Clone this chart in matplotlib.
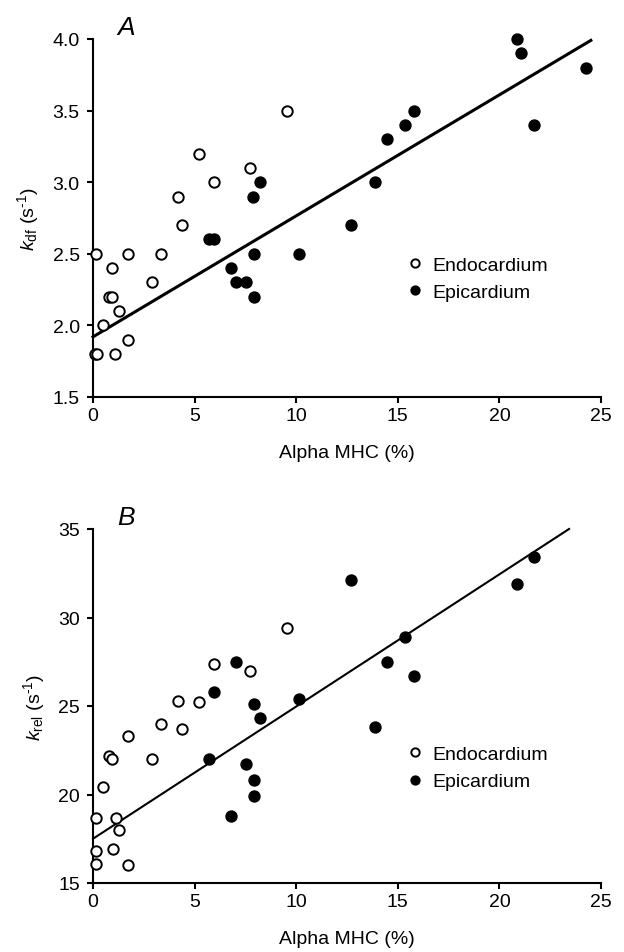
import matplotlib
matplotlib.use("Agg")
import matplotlib.pyplot as plt
import numpy as np

plt.rcParams['font.family'] = ['Liberation Sans', 'DejaVu Sans']
plt.rcParams['mathtext.fontset'] = 'custom'
plt.rcParams['mathtext.rm'] = 'Liberation Sans'
plt.rcParams['mathtext.it'] = 'Liberation Sans:italic'

# ---- Panel A data: k_df vs Alpha MHC ----
a_endo_x = [0.1, 0.2, 0.15, 0.48, 0.79, 0.95, 0.95, 1.1, 1.3, 1.7, 1.74, 2.92, 3.33, 4.2, 4.4, 5.23, 5.94, 7.74, 9.56]
a_endo_y = [1.8, 1.8, 2.5, 2.0, 2.2, 2.2, 2.4, 1.8, 2.1, 1.9, 2.5, 2.3, 2.5, 2.9, 2.7, 3.2, 3.0, 3.1, 3.5]
a_epi_x = [5.69, 5.94, 6.81, 7.02, 7.51, 7.86, 7.94, 7.94, 8.2, 10.14, 12.71, 13.9, 14.49, 15.34, 15.8, 20.85, 21.06, 21.7, 24.26]
a_epi_y = [2.6, 2.6, 2.4, 2.3, 2.3, 2.9, 2.5, 2.2, 3.0, 2.5, 2.7, 3.0, 3.3, 3.4, 3.5, 4.0, 3.9, 3.4, 3.8]
a_fit = (1.92, 0.0845)      # intercept, slope
a_fit_x = [0.0, 24.5]

# ---- Panel B data: k_rel vs Alpha MHC ----
b_endo_x = [0.13, 0.15, 0.15, 0.48, 0.79, 0.95, 0.97, 1.12, 1.3, 1.7, 1.74, 2.92, 3.33, 4.2, 4.4, 5.23, 5.94, 7.74, 9.56]
b_endo_y = [18.7, 16.8, 16.1, 20.4, 22.2, 22.0, 16.9, 18.7, 18.0, 16.0, 23.3, 22.0, 24.0, 25.3, 23.7, 25.2, 27.4, 27.0, 29.4]
b_epi_x = [5.69, 5.94, 6.81, 7.02, 7.51, 7.94, 7.94, 7.94, 8.2, 10.14, 12.71, 13.9, 14.49, 15.34, 15.8, 20.85, 21.7]
b_epi_y = [22.0, 25.8, 18.8, 27.5, 21.7, 25.1, 20.8, 19.9, 24.3, 25.4, 32.1, 23.8, 27.5, 28.9, 26.7, 31.9, 33.4]
b_fit = (17.5, 0.747)
b_fit_x = [0.0, 23.43]

x_ticks = [0, 5, 10, 15, 20, 25]
a_yticks = [1.5, 2.0, 2.5, 3.0, 3.5, 4.0]
a_yticklabels = ['1.5', '2.0', '2.5', '3.0', '3.5', '4.0']
b_yticks = [15, 20, 25, 30, 35]
b_yticklabels = ['15', '20', '25', '30', '35']

W, H = 624, 953
fig = plt.figure(figsize=(W / 100, H / 100), dpi=100)

FS = 14

def make_ax(left, top, right, bottom):
    return fig.add_axes([left / W, 1 - bottom / H, (right - left) / W, (bottom - top) / H])

def style(ax):
    for s in ['top', 'right']:
        ax.spines[s].set_visible(False)
    for s in ['left', 'bottom']:
        ax.spines[s].set_linewidth(1.5)
    ax.tick_params(direction='out', length=4.5, width=1.5, labelsize=FS)
    ax.tick_params(axis='y', pad=5)
    ax.tick_params(axis='x', pad=3)

def panel(ax, ex, ey, px, py, fit, fitx, lw, xlim, ylim, yt, ytl, ylabel, letter, leg_y):
    ax.plot(ex, ey, 'o', mfc='white', mec='black', ms=7.5, mew=1.4,
            linestyle='none', label='Endocardium', clip_on=False, zorder=3)
    ax.plot(px, py, 'o', mfc='black', mec='black', ms=7.5, mew=1.4,
            linestyle='none', label='Epicardium', clip_on=False, zorder=3)
    fx = np.array(fitx)
    ax.plot(fx, fit[0] + fit[1] * fx, '-', color='black', lw=lw, zorder=2, clip_on=False)
    ax.set_xlim(*xlim)
    ax.set_ylim(*ylim)
    ax.set_xticks(x_ticks)
    ax.set_xticklabels([str(t) for t in x_ticks])
    ax.set_yticks(yt)
    ax.set_yticklabels(ytl)
    ax.set_xlabel('Alpha MHC (%)', fontsize=FS, labelpad=14)
    ax.set_ylabel(ylabel, fontsize=FS, labelpad=8)
    style(ax)
    ax.text(1.2, 1.0, letter, transform=ax.get_xaxis_transform(), fontsize=19,
            fontstyle='italic', va='bottom', ha='left')
    ax.legend(loc='center left', bbox_to_anchor=(0.61, leg_y), frameon=False,
              fontsize=FS, markerscale=0.8, handletextpad=0.3, handlelength=1.2,
              labelspacing=0.5, borderaxespad=0, borderpad=0)
    return ax

axA = make_ax(93, 40, 601, 398)
panel(axA, a_endo_x, a_endo_y, a_epi_x, a_epi_y, a_fit, a_fit_x, 2.2,
      (0, 25), (1.5, 4.0), a_yticks, a_yticklabels,
      r'$k_{\rm df}$ (s$^{\text{-1}}$)', 'A', 0.331)

axB = make_ax(93, 530, 601, 884)
panel(axB, b_endo_x, b_endo_y, b_epi_x, b_epi_y, b_fit, b_fit_x, 1.5,
      (0, 25), (15, 35), b_yticks, b_yticklabels,
      r'$k_{\rm rel}$ (s$^{\text{-1}}$)', 'B', 0.325)

fig.savefig('out.png', dpi=100)
